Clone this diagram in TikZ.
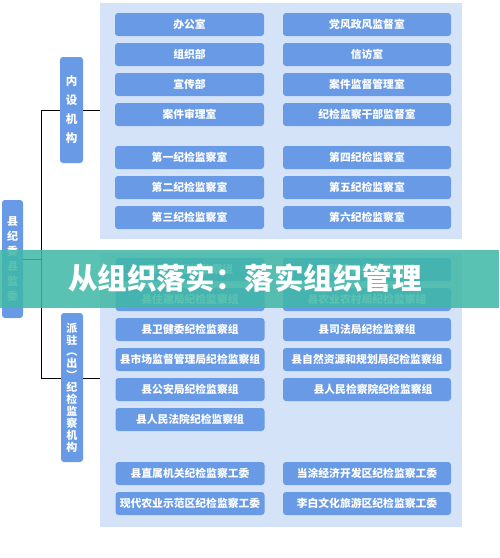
\documentclass[tikz,border=0pt]{standalone}
\usepackage{fontspec}
\setmainfont{Noto Sans CJK SC}
\definecolor{boxblue}{RGB}{104,154,230}
\definecolor{panelblue}{RGB}{213,227,248}
\definecolor{bannerteal}{RGB}{64,184,166}
\begin{document}
\begin{tikzpicture}[x=1pt,y=-1pt,
  panel/.style={fill=panelblue, draw=none, inner sep=0pt},
  obox/.style={fill=boxblue, draw=none, rounded corners=3pt, inner sep=0pt,
    minimum height=23pt, text=white, font=\fontsize{10.8}{12}\selectfont\bfseries},
  lcol/.style={obox, minimum width=149pt},
  rcol/.style={obox, minimum width=168pt},
  lbl/.style={fill=boxblue, draw=none, rounded corners=3pt, inner sep=0pt,
    text=white, align=center},
  tline/.style={draw=black, line width=0.9pt}]
\useasboundingbox (0,0) rectangle (499,558);
\fill[white] (0,0) rectangle (499,558);

% panels
\node[panel, minimum width=362pt, minimum height=236pt] (p1) at (281,121) {};
\node[panel, minimum width=362pt, minimum height=274pt] (p2) at (281,390) {};

% panel 1 boxes
\node[lcol] (a1) at (189.5,24.5) {办公室};
\node[lcol] (a2) at (189.5,54.5) {组织部};
\node[lcol] (a3) at (189.5,84.5) {宣传部};
\node[lcol] (a4) at (189.5,114.5) {案件审理室};
\node[lcol] (a5) at (189.5,157.5) {第一纪检监察室};
\node[lcol] (a6) at (189.5,187.5) {第二纪检监察室};
\node[lcol] (a7) at (189.5,217.5) {第三纪检监察室};
\node[rcol] (b1) at (367,24.5) {党风政风监督室};
\node[rcol] (b2) at (367,54.5) {信访室};
\node[rcol] (b3) at (367,84.5) {案件监督管理室};
\node[rcol] (b4) at (367,114.5) {纪检监察干部监督室};
\node[rcol] (b5) at (367,157.5) {第四纪检监察室};
\node[rcol] (b6) at (367,187.5) {第五纪检监察室};
\node[rcol] (b7) at (367,217.5) {第六纪检监察室};

% panel 2 boxes
\node[lcol] (c1) at (190,269.5) {县委办纪检监察组};
\node[lcol] (c2) at (190,299.5) {县住建局纪检监察组};
\node[lcol] (c3) at (190,329.5) {县卫健委纪检监察组};
\node[lcol] (c4) at (190,359.5) {县市场监督管理局纪检监察组};
\node[lcol] (c5) at (190,389.5) {县公安局纪检监察组};
\node[lcol] (c6) at (190,419.5) {县人民法院纪检监察组};
\node[lcol] (c7) at (190,473.5) {县直属机关纪检监察工委};
\node[lcol] (c8) at (190,503.5) {现代农业示范区纪检监察工委};
\node[rcol] (d1) at (367,269.5) {县政府办纪检监察组};
\node[rcol] (d2) at (367,299.5) {县农业农村局纪检监察组};
\node[rcol] (d3) at (367,329.5) {县司法局纪检监察组};
\node[rcol] (d4) at (367,359.5) {县自然资源和规划局纪检监察组};
\node[rcol] (d5) at (367,389.5) {\hspace*{12pt}县人民检察院纪检监察组};
\node[rcol] (d7) at (367,473.5) {当涂经济开发区纪检监察工委};
\node[rcol] (d8) at (367,503.5) {李白文化旅游区纪检监察工委};

% labels
\node[lbl, minimum width=21pt, minimum height=118pt,
  font=\fontsize{11}{15}\selectfont\bfseries] (root) at (12.5,259)
  {县\\纪\\委\\县\\监\\委};
\node[lbl, minimum width=23pt, minimum height=106pt,
  font=\fontsize{11.5}{19}\selectfont\bfseries] (nsjg) at (71.5,110)
  {内\\设\\机\\构};
\node[lbl, minimum width=22pt, minimum height=149pt,
  font=\fontsize{11}{11.9}\selectfont\bfseries] (pzjg) at (72,387.5)
  {派\\驻\\︵\\出\\︶\\纪\\检\\监\\察\\机\\构};

% connectors
\coordinate (j0) at (41,259);
\coordinate (j1) at (41,110);
\coordinate (j2) at (41,378);
\draw[tline] (j1) -- (j2);
\draw[tline] (root.east) -- (j0);
\draw[tline] (j1) -- (nsjg.west |- j1);
\draw[tline] (nsjg.east |- j1) -- (p1.west |- j1);
\draw[tline] (j2) -- (pzjg.west |- j2);
\draw[tline] (pzjg.east |- j2) -- (p2.west |- j2);

% banner
\fill[bannerteal, opacity=0.86] (0,250) rectangle (499,308);
\node[text=white, font=\fontsize{29.5}{32}\selectfont\bfseries, inner sep=0pt] (banner) at (245,278)
  {从组织落实：落实组织管理};
\end{tikzpicture}
\end{document}
